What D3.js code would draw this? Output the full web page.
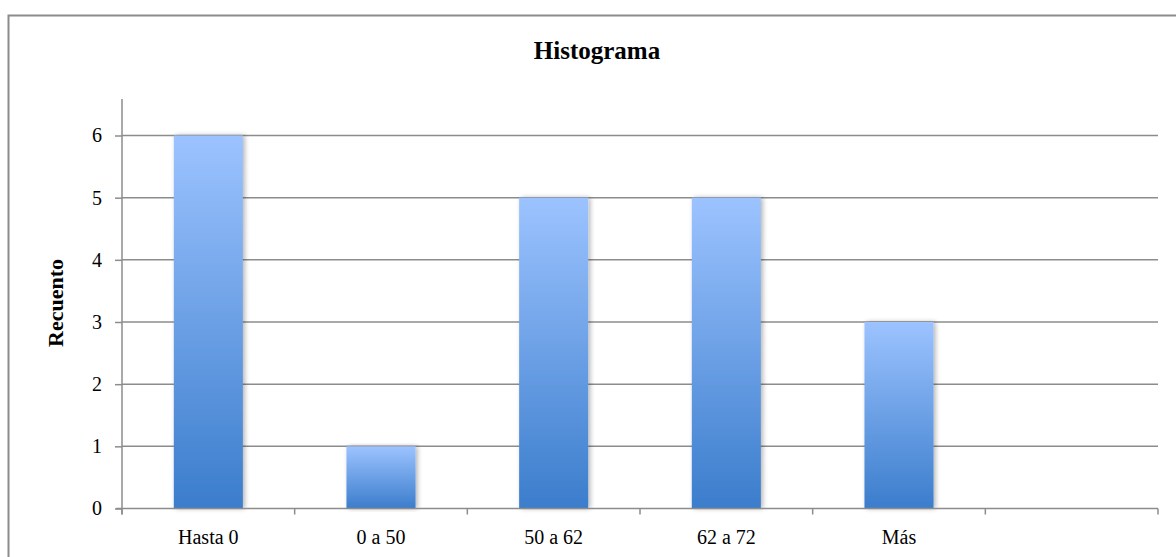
<!DOCTYPE html>
<html><head><meta charset="utf-8">
<script src="https://cdn.jsdelivr.net/npm/d3@7"></script>
<style>
html,body{margin:0;padding:0;background:#fff;}
svg{display:block;}
text{font-family:"Liberation Serif","DejaVu Serif",serif;fill:#000;}
</style></head>
<body>
<svg id="chart" width="1176" height="557"></svg>
<script>
const categories = ["Hasta 0", "0 a 50", "50 a 62", "62 a 72", "Más", ""];
const counts = [6, 1, 5, 5, 3, null];
const yTicks = [0, 1, 2, 3, 4, 5, 6];
const title = "Histograma";
const yTitle = "Recuento";

(function () {
const svg = d3.select("#chart");
const pLeft = 122, pRight = 1158, pTop = 135.5, pBottom = 508.5;

// outer frame
svg.append("rect").attr("x", 8.5).attr("y", 15.5).attr("width", 1180).attr("height", 560)
  .attr("fill", "#fff").attr("stroke", "#8c8c8c").attr("stroke-width", 2);

const x = d3.scaleBand().domain(categories.map((c, i) => i)).range([pLeft, pRight]).paddingInner(0).paddingOuter(0);
const y = d3.scaleLinear().domain([0, 6]).range([pBottom, pTop]);

const defs = svg.append("defs");
const grad = defs.append("linearGradient").attr("id", "barGrad").attr("x1", 0).attr("y1", 0).attr("x2", 0).attr("y2", 1);
grad.append("stop").attr("offset", "0%").attr("stop-color", "#9cc3ff");
grad.append("stop").attr("offset", "100%").attr("stop-color", "#3b7dcc");
const f = defs.append("filter").attr("id", "shadow").attr("x", "-20%").attr("y", "-5%").attr("width", "140%").attr("height", "110%");
f.append("feGaussianBlur").attr("in", "SourceAlpha").attr("stdDeviation", 2.5).attr("result", "b");
f.append("feOffset").attr("in", "b").attr("dx", 2).attr("dy", 0).attr("result", "o");
f.append("feComponentTransfer").attr("in", "o").attr("result", "o2")
  .append("feFuncA").attr("type", "linear").attr("slope", 0.3);
const m = f.append("feMerge");
m.append("feMergeNode").attr("in", "o2");
m.append("feMergeNode").attr("in", "SourceGraphic");

// gridlines
svg.append("g").selectAll("line").data(yTicks.filter(t => t > 0)).join("line")
  .attr("x1", pLeft).attr("x2", pRight).attr("y1", d => y(d)).attr("y2", d => y(d))
  .attr("stroke", "#8c8c8c").attr("stroke-width", 1.5);

// y axis
const yAxis = d3.axisLeft(y).tickValues(yTicks).tickSize(7).tickPadding(13).tickFormat(d3.format("d"));
const gy = svg.append("g").attr("transform", `translate(${pLeft},0)`).call(yAxis);
gy.select(".domain").remove();
gy.selectAll(".tick line").attr("stroke", "#8c8c8c").attr("stroke-width", 1.5);
gy.selectAll(".tick text").attr("font-size", 20).attr("font-family", "Liberation Serif").attr("fill", "#000");
svg.append("line").attr("x1", pLeft).attr("x2", pLeft).attr("y1", 99).attr("y2", pBottom + 6)
  .attr("stroke", "#8c8c8c").attr("stroke-width", 1.5);

// bars
const bw = x.bandwidth() / 2.5;
svg.append("g").selectAll("rect").data(counts.map((v, i) => ({v, i})).filter(d => d.v != null)).join("rect")
  .attr("x", d => x(d.i) + (x.bandwidth() - bw) / 2)
  .attr("width", bw)
  .attr("y", d => y(d.v))
  .attr("height", d => y(0) - y(d.v))
  .attr("fill", "url(#barGrad)")
  .attr("filter", "url(#shadow)");

// x axis
svg.append("line").attr("x1", pLeft - 6).attr("x2", pRight).attr("y1", pBottom).attr("y2", pBottom)
  .attr("stroke", "#8c8c8c").attr("stroke-width", 1.5);
const bounds = categories.map((c, i) => x(i)).concat([pRight]);
svg.append("g").selectAll("line").data(bounds).join("line")
  .attr("x1", d => d).attr("x2", d => d).attr("y1", pBottom).attr("y2", pBottom + 6)
  .attr("stroke", "#8c8c8c").attr("stroke-width", 1.5);
svg.append("g").selectAll("text").data(categories).join("text")
  .attr("x", (d, i) => x(i) + x.bandwidth() / 2).attr("y", 544)
  .attr("text-anchor", "middle").attr("font-size", 20).text(d => d);

// titles
svg.append("text").attr("x", 597).attr("y", 59).attr("text-anchor", "middle")
  .attr("font-size", 25).attr("font-weight", "bold").text(title);
svg.append("text").attr("transform", `translate(63,303) rotate(-90)`)
  .attr("text-anchor", "middle").attr("font-size", 22).attr("font-weight", "bold").text(yTitle);
})();
</script>
</body></html>
